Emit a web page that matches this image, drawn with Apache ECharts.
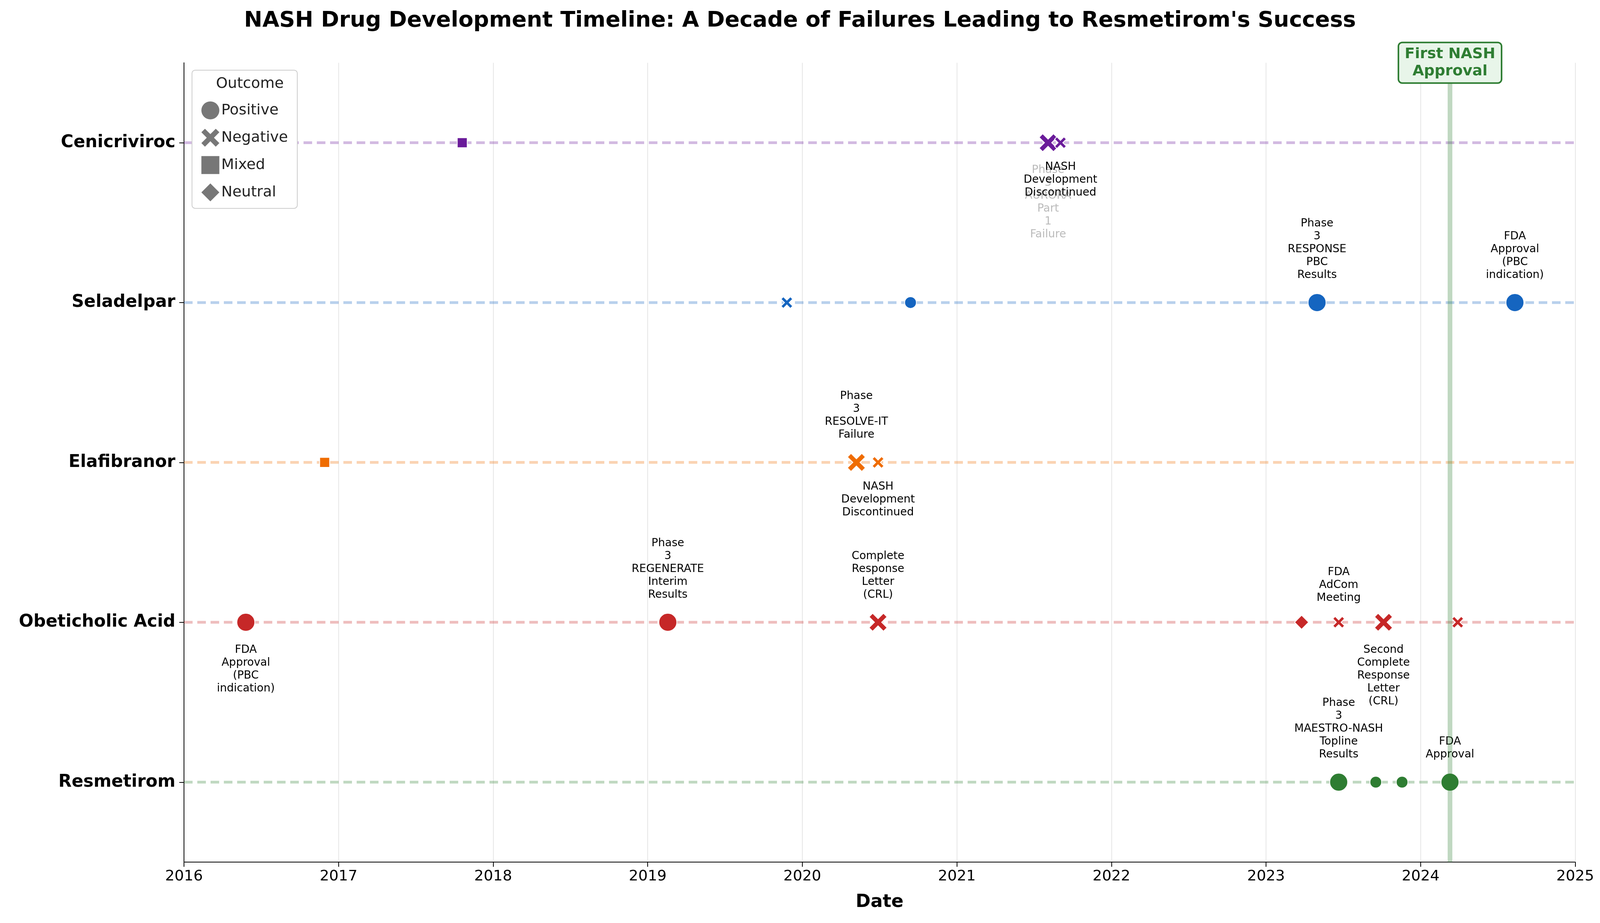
<!DOCTYPE html>
<html>
<head>
<meta charset="UTF-8">
<title>NASH Drug Development Timeline</title>
<script src="https://cdn.jsdelivr.net/npm/echarts@6/dist/echarts.min.js"></script>
<style>html,body{margin:0;padding:0;background:#fff;overflow:hidden;}</style>
</head>
<body>
<div id="chart" style="width:100vw;height:100vh;"></div>
<script>
// drugs, bottom to top
var drugs = ['Resmetirom', 'Obeticholic Acid', 'Elafibranor', 'Seladelpar', 'Cenicriviroc'];
var colors = ['#2e7d32', '#c62828', '#ef6c00', '#1565c0', '#6a1b9a'];
var outcomes = ['Positive', 'Negative', 'Mixed', 'Neutral'];

// events per drug: [date (decimal year), outcome, major, label, labelSide]
var resmetiromEvents = [
  [2023.47, 'Positive', 1, 'Phase 3 MAESTRO-NASH Topline Results', 'top'],
  [2023.71, 'Positive', 0, '', ''],
  [2023.88, 'Positive', 0, '', ''],
  [2024.19, 'Positive', 1, 'FDA Approval', 'top']
];
var ocaEvents = [
  [2016.40, 'Positive', 1, 'FDA Approval (PBC indication)', 'bottom'],
  [2019.13, 'Positive', 1, 'Phase 3 REGENERATE Interim Results', 'top'],
  [2020.49, 'Negative', 1, 'Complete Response Letter (CRL)', 'top'],
  [2023.23, 'Neutral', 0, '', ''],
  [2023.47, 'Negative', 0, 'FDA AdCom Meeting', 'top'],
  [2023.76, 'Negative', 1, 'Second Complete Response Letter (CRL)', 'bottom'],
  [2024.24, 'Negative', 0, '', '']
];
var elafibranorEvents = [
  [2016.91, 'Mixed', 0, '', ''],
  [2020.35, 'Negative', 1, 'Phase 3 RESOLVE-IT Failure', 'top'],
  [2020.49, 'Negative', 0, 'NASH Development Discontinued', 'bottom']
];
var seladelparEvents = [
  [2019.90, 'Negative', 0, '', ''],
  [2020.70, 'Positive', 0, '', ''],
  [2023.33, 'Positive', 1, 'Phase 3 RESPONSE PBC Results', 'top'],
  [2024.61, 'Positive', 1, 'FDA Approval (PBC indication)', 'top']
];
var cenicrivirocEvents = [
  [2017.80, 'Mixed', 0, '', ''],
  [2021.59, 'Negative', 1, 'Phase 3 AURORA Part 1 Failure', 'bottom'],
  [2021.67, 'Negative', 0, 'NASH Development Discontinued', 'bottom']
];
var allEvents = [resmetiromEvents, ocaEvents, elafibranorEvents, seladelparEvents, cenicrivirocEvents];
var approvalDate = 2024.19;
var xTicks = [2016, 2025, 1];

var crossPath = 'path://M0,2 L2,0 L5,3 L8,0 L10,2 L7,5 L10,8 L8,10 L5,7 L2,10 L0,8 L3,5 Z';
var symbols = {Positive: 'circle', Negative: crossPath, Mixed: 'rect', Neutral: 'diamond'};
var symbolScale = {Positive: 1, Negative: 1, Mixed: 0.85, Neutral: 1.2};

var series = [];
drugs.forEach(function (d, i) {
  // dashed baseline
  series.push({
    type: 'line', silent: true, symbol: 'none', z: 1,
    data: [[xTicks[0], d], [xTicks[1], d]],
    lineStyle: {color: colors[i], opacity: 0.3, type: [22, 12], width: 7}
  });
  var data = allEvents[i].map(function (e) {
    var size = (e[2] ? 46 : 30) * symbolScale[e[1]];
    var item = {
      value: [e[0], d], symbol: symbols[e[1]], symbolSize: size
    };
    if (e[3]) {
      item.label = {
        show: true, position: e[4], distance: 30,
        formatter: e[3].split(' ').join('\n'),
        color: '#000', fontSize: 28, lineHeight: 33, align: 'center',
        fontFamily: 'DejaVu Sans'
      };
      if (d === 'Cenicriviroc' && e[4] === 'bottom' && e[2]) {
        item.label.color = '#bbb';
      }
    }
    return item;
  });
  var s = {
    type: 'scatter', z: 3, data: data,
    itemStyle: {color: colors[i], opacity: 1, borderColor: '#fff', borderWidth: 2}
  };
  if (d === 'Resmetirom') {
    s.markLine = {
      silent: true, symbol: 'none',
      lineStyle: {color: 'rgba(46,125,50,0.3)', width: 12, type: 'solid'},
      data: [{xAxis: approvalDate}],
      label: {
        show: true, position: 'end', formatter: 'First NASH\nApproval',
        color: '#2e7d32', fontWeight: 'bold', fontSize: 38, lineHeight: 44,
        fontFamily: 'DejaVu Sans', backgroundColor: '#e8f5e9',
        borderColor: '#2e7d32', borderWidth: 4, borderRadius: 8,
        padding: [6, 14, 6, 14], distance: -50, opacity: 1
      }
    };
  }
  series.push(s);
});
// legend dummies
outcomes.forEach(function (o) {
  series.push({type: 'scatter', name: o, data: [], symbol: symbols[o],
    itemStyle: {color: '#777', opacity: 1}});
});

var chart = echarts.init(document.getElementById('chart'));
chart.setOption({
  animation: false,
  backgroundColor: '#fff',
  title: {
    text: "NASH Drug Development Timeline: A Decade of Failures Leading to Resmetirom's Success",
    left: 'center', top: 20,
    textStyle: {fontSize: 56, fontWeight: 'bold', color: '#000', fontFamily: 'DejaVu Sans'}
  },
  grid: {left: '11.5%', right: '1.55%', top: '6.8%', bottom: '6.6%'},
  legend: {
    data: outcomes, orient: 'vertical', left: '12%', top: '7.6%',
    padding: [80, 24, 18, 24], itemGap: 24,
    borderColor: '#ccc', borderWidth: 2, borderRadius: 8, backgroundColor: '#fff',
    itemWidth: 46, itemHeight: 46,
    textStyle: {fontSize: 38, color: '#222', fontFamily: 'DejaVu Sans'}
  },
  graphic: [{
    type: 'text', left: '13.5%', top: '8.3%', z: 100,
    style: {text: 'Outcome', fontSize: 38, fill: '#222', fontFamily: 'DejaVu Sans'}
  }],
  xAxis: {
    type: 'value', min: xTicks[0], max: xTicks[1], interval: xTicks[2],
    name: 'Date', nameLocation: 'middle', nameGap: 80,
    nameTextStyle: {fontSize: 46, fontWeight: 'bold', color: '#000', fontFamily: 'DejaVu Sans'},
    axisLine: {show: true, lineStyle: {color: '#000', width: 2}},
    axisTick: {show: true, length: 12, lineStyle: {color: '#000', width: 2}},
    axisLabel: {fontSize: 38, color: '#000', margin: 18, fontFamily: 'DejaVu Sans',
      formatter: function (v) { return String(v); }},
    splitLine: {show: true, lineStyle: {color: '#e6e6e6', width: 2}}
  },
  yAxis: {
    type: 'category', data: drugs,
    axisLine: {show: true, lineStyle: {color: '#000', width: 2}},
    axisTick: {show: true, alignWithLabel: true, length: 12, lineStyle: {color: '#000', width: 2}},
    axisLabel: {fontSize: 44, fontWeight: 'bold', color: '#000', margin: 22, fontFamily: 'DejaVu Sans'},
    splitLine: {show: false}
  },
  series: series
});
</script>
</body>
</html>
